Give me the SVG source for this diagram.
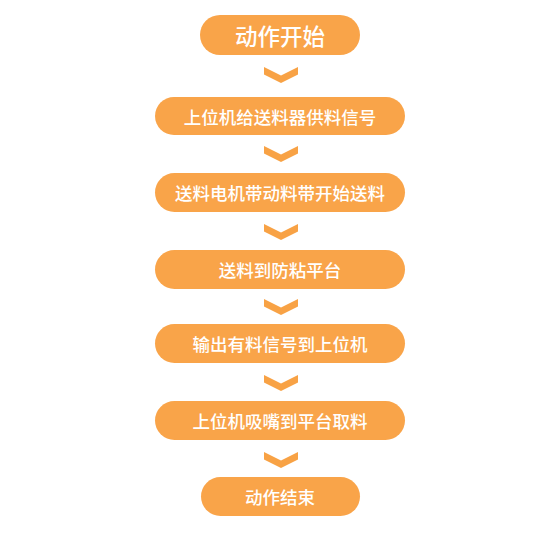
<svg xmlns="http://www.w3.org/2000/svg" width="560" height="544" viewBox="0 0 560 544">
<style>
.n{fill:#F9A449}
.t{fill:#fff;font-family:"Noto Sans CJK SC","Noto Sans",sans-serif;font-size:17.5px;font-weight:500;text-anchor:middle;dominant-baseline:central}
.big{font-size:22.5px}
.c{fill:#F8A245}
</style>
<defs>
<polygon id="chev" class="c" points="-17,0 0,8.5 17,0 17,7.5 0,16 -17,7.5"/>
</defs>
<rect width="560" height="544" fill="#fff"/>
<g id="connectors">
<use href="#chev" x="281" y="67"/>
<use href="#chev" x="281" y="146"/>
<use href="#chev" x="281" y="224"/>
<use href="#chev" x="281" y="299"/>
<use href="#chev" x="281" y="375"/>
<use href="#chev" x="281" y="452"/>
</g>
<g id="n1"><rect class="n" x="200" y="15" width="160" height="40" rx="20"/><text class="t big" x="280" y="35">动作开始</text></g>
<g id="n2"><rect class="n" x="155" y="97" width="250" height="38" rx="19"/><text class="t" x="280" y="116">上位机给送料器供料信号</text></g>
<g id="n3"><rect class="n" x="155" y="173" width="250" height="39" rx="19.5"/><text class="t" x="280" y="192.5">送料电机带动料带开始送料</text></g>
<g id="n4"><rect class="n" x="155" y="250" width="250" height="39" rx="19.5"/><text class="t" x="280" y="269.5">送料到防粘平台</text></g>
<g id="n5"><rect class="n" x="155" y="324" width="250" height="39" rx="19.5"/><text class="t" x="280" y="343.5">输出有料信号到上位机</text></g>
<g id="n6"><rect class="n" x="155" y="401" width="250" height="39" rx="19.5"/><text class="t" x="280" y="420.5">上位机吸嘴到平台取料</text></g>
<g id="n7"><rect class="n" x="201" y="477" width="159" height="39" rx="19.5"/><text class="t" x="280" y="496.5">动作结束</text></g>
</svg>
